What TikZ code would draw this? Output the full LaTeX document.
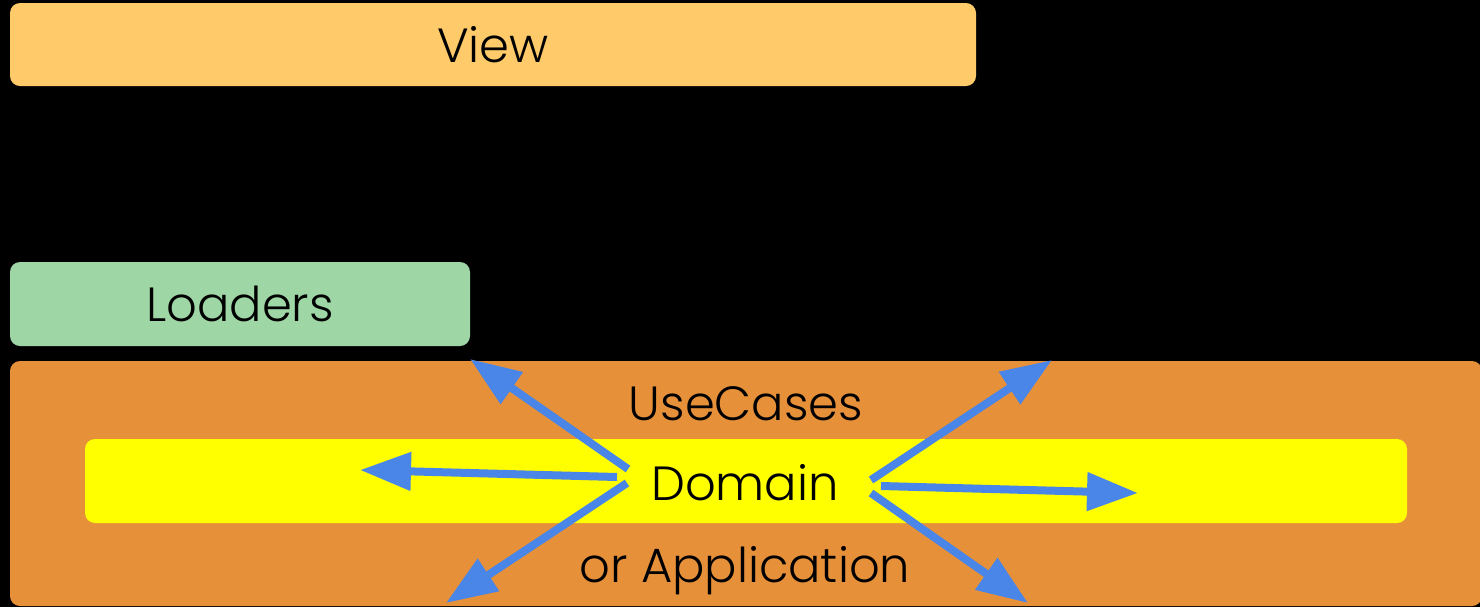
\documentclass[tikz,border=0pt]{standalone}
\usepackage{fontspec}
\setmainfont{Poppins Light}
\usetikzlibrary{arrows.meta}
\definecolor{viewc}{RGB}{255,202,106}
\definecolor{loadc}{RGB}{159,214,165}
\definecolor{usec}{RGB}{230,144,58}
\definecolor{domc}{RGB}{255,255,0}
\definecolor{arrc}{RGB}{74,134,232}
\begin{document}
\begin{tikzpicture}[x=0.5pt,y=-0.5pt,
  layer/.style={rounded corners=5pt,inner sep=0pt,outer sep=0pt},
  lbl/.style={font=\fontsize{24}{28}\selectfont,text=black,inner sep=0pt,anchor=base},
  dep/.style={draw=arrc,line width=4pt,-{Triangle[length=25.5pt,width=18.5pt]}}]
  % canvas
  \fill[black] (0,0) rectangle (1480,607);
  \useasboundingbox (0,0) rectangle (1480,607);
  % layers
  \fill[viewc,layer] (10,3) rectangle (976,86);
  \fill[loadc,layer] (10,262) rectangle (470,346);
  \fill[usec,layer] (10,361) rectangle (1482,606);
  \fill[domc,layer] (85,439) rectangle (1407,523);
  % labels
  \node[lbl] (view) at (493,62) {View};
  \node[lbl] (loaders) at (240,321) {Loaders};
  \node[lbl] (usecases) at (746,420) {UseCases};
  \node[lbl] (domain) at (745,500) {Domain};
  \node[lbl] (app) at (745,582) {or Application};
  % dependency arrows
  \coordinate (s1) at (628,469); \coordinate (t1) at (470,359);
  \coordinate (s2) at (617,477); \coordinate (t2) at (360,470);
  \coordinate (s3) at (627,483); \coordinate (t3) at (446,603);
  \coordinate (s4) at (871,480); \coordinate (t4) at (1052,360);
  \coordinate (s5) at (881,486); \coordinate (t5) at (1138,493);
  \coordinate (s6) at (871,493); \coordinate (t6) at (1028,603);
  \foreach \i in {1,...,6} \draw[dep] (s\i) -- (t\i);
\end{tikzpicture}
\end{document}
